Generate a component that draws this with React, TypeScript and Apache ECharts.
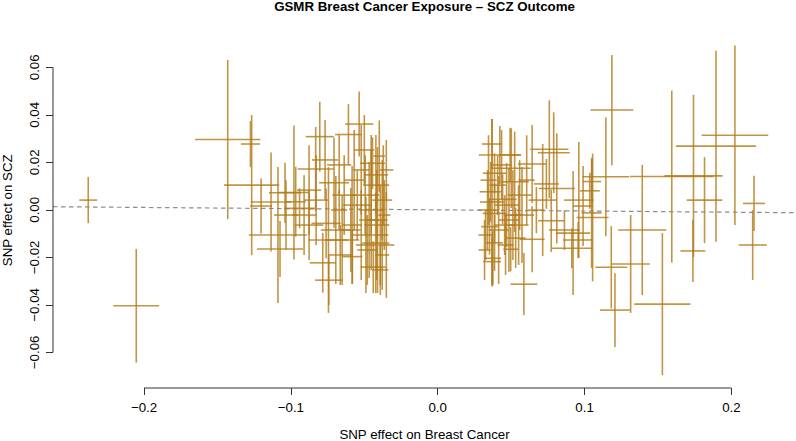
import React, { useEffect, useRef } from "react";
import * as echarts from "echarts";

// ---- chart text ----
const chartTitle = "GSMR Breast Cancer Exposure \u2013 SCZ Outcome";
const xTitle = "SNP effect on Breast Cancer";
const yTitle = "SNP effect on SCZ";

// ---- axes ----
const xTicks = [-0.2, -0.1, 0, 0.1, 0.2];
const yTicks = [-0.06, -0.04, -0.02, 0, 0.02, 0.04, 0.06];
const xRange = [-0.262, 0.244];
const yRange = [-0.075, 0.0746];

// GSMR estimate (slope of dashed line through origin)
const bxy = -0.005;

// ---- SNP effects: exposure (bzx), outcome (bzy) and their standard errors ----
const bzx = [
  -0.238, -0.2053, -0.143, -0.1267, -0.1275, -0.1135, -0.1088, -0.1203, -0.1074,
  -0.0803, -0.0767, -0.0979, -0.0831, -0.0706, -0.104, -0.0967, -0.0744, -0.0694, -0.0783,
  -0.0742, -0.0608, -0.0535, -0.0421, -0.0444, -0.0398, -0.076, -0.0651, -0.0581, -0.0422,
  -0.0439, -0.0415, -0.0941, -0.0583, -0.0592, -0.0467, -0.041, -0.0494, -0.0378, -0.0453,
  -0.0548, -0.0637, -0.0876, -0.091, -0.0828, -0.0521, -0.0391, -0.0364, -0.048, -0.0378,
  -0.1033, -0.0671, -0.05, -0.0671, -0.035, -0.0489,
  -0.0371, -0.035, -0.0521, -0.0569, -0.0391, -0.0453, -0.0664, -0.0876,
  0.1186, 0.1145, 0.1393, 0.1594, 0.1742, 0.1895, 0.2024, 0.1817, 0.2154, 0.2145,
  0.1738, 0.153, 0.1314, 0.1182, 0.1207, 0.0587,
  0.0961, 0.0922, 0.099, 0.1048, 0.1055, 0.1036, 0.105, 0.0956, 0.0913, 0.0863,
  0.076, 0.079, 0.0811, 0.0715, 0.0643, 0.074, 0.0773, 0.0643, 0.0672,
  0.0369, 0.037, 0.0423, 0.0493, 0.0501, 0.0524, 0.0387, 0.036, 0.0387, 0.0353,
  0.0387, 0.0376, 0.037, 0.0497, 0.0415, 0.0485, 0.0574, 0.0512, 0.0442, 0.0339,
  0.0558, 0.0456, 0.0326, 0.0531, 0.0408, 0.0469,
  0.0435, 0.0346, 0.0462, 0.0551, 0.0606, 0.0319,
];
const bzy = [
  0.0041, -0.0404, 0.0296, 0.0104, 0.0277, 0.0033, -0.0106, 0.0016, -0.0165,
  0.0308, 0.021, 0.0073, 0.0172, 0.0114, 0.0072, 0.0034, -0.0127, -0.0085, -0.0223,
  -0.0296, 0.0317, 0.0361, 0.0147, 0.0196, 0.0226, -0.0057, -0.0127, -0.0197, -0.014,
  -0.0241, -0.0064, 0.0006, -0.0064, -0.0085, -0.0043, -0.0043, 0.0062, 0.0041, 0.0104,
  0.002, 0.0062, 0.0083, -0.0022, 0.0041, -0.0106, -0.0106, -0.0022, -0.0169, -0.019,
  -0.0022, -0.0001, 0.0252, 0.0189, -0.0148, -0.0148,
  0.0104, 0.0168, 0.0168, 0.0125, -0.0253, -0.0001, -0.019, -0.0064,
  0.042, 0.0139, -0.0085, 0.014, 0.0143, 0.0268, 0.0314, 0.0041, 0.0027, -0.0148,
  -0.0173, -0.0397, -0.0228, -0.0242, -0.0422, -0.0313,
  0.0041, -0.0098, 0.0016, -0.0013, -0.0032, 0.008, 0.0119, -0.0127, -0.0162, -0.0085,
  0.0255, 0.024, 0.009, 0.0041, 0.0193, 0.0109, -0.0046, -0.0124, -0.0001,
  0.0277, 0.0033, 0.0231, 0.0231, 0.0175, 0.0118, 0.0154, 0.0076, -0.0015, -0.0071,
  -0.0139, -0.0204, -0.0218, -0.0166, -0.0085, -0.0043, -0.0022, -0.0022, 0.0044, -0.0001,
  0.0062, -0.0064, -0.0106, -0.0119, 0.0104, 0.002,
  0.0189, 0.0125, -0.0148, -0.0064, 0.0125, -0.0169,
];
const seZx = [
  0.0061, 0.0156, 0.0222, 0.0188, 0.0065, 0.0137, 0.0198, 0.0075, 0.0157,
  0.0096, 0.0089, 0.0102, 0.0123, 0.0102, 0.0109, 0.0068, 0.0137, 0.0102, 0.0089,
  0.0094, 0.0091, 0.0096, 0.0082, 0.0085, 0.0041, 0.01, 0.0116, 0.0068, 0.0092,
  0.0085, 0.0085, 0.0106, 0.0068, 0.0068, 0.0068, 0.0068, 0.0096, 0.0068, 0.0055,
  0.0096, 0.0082, 0.0082, 0.0082, 0.0082, 0.0068, 0.0055, 0.0041, 0.0068, 0.0048,
  0.0082, 0.0055, 0.0068, 0.0082, 0.0055, 0.0068,
  0.0041, 0.0048, 0.0055, 0.0068, 0.0055, 0.0082, 0.0082, 0.0096,
  0.0146, 0.0159, 0.0164, 0.0285, 0.0198, 0.0273, 0.0227, 0.0121, 0.0075, 0.0096,
  0.0085, 0.0191, 0.013, 0.0109, 0.0102, 0.0091,
  0.0102, 0.0116, 0.0068, 0.0068, 0.0109, 0.0068, 0.0063, 0.0102, 0.0137, 0.0105,
  0.013, 0.0109, 0.0123, 0.0096, 0.0096, 0.0085, 0.0089, 0.0085, 0.0055,
  0.0068, 0.0082, 0.0143, 0.0075, 0.0133, 0.0096, 0.008, 0.0075, 0.008, 0.0057,
  0.0057, 0.0057, 0.0061, 0.0051, 0.0068, 0.0068, 0.0082, 0.0061, 0.0096, 0.0061,
  0.0082, 0.0068, 0.0048, 0.0068, 0.0055, 0.0082,
  0.0068, 0.0055, 0.0055, 0.0068, 0.0055, 0.0041,
];
const seZy = [
  0.0097, 0.0239, 0.0335, 0.0295, 0.0097, 0.0208, 0.0286, 0.0116, 0.0118,
  0.0147, 0.0168, 0.0282, 0.0177, 0.0189, 0.0126, 0.0147, 0.0307, 0.0227, 0.0126,
  0.0105, 0.0128, 0.0137, 0.0168, 0.0109, 0.015, 0.0147, 0.0189, 0.0114, 0.0211,
  0.0109, 0.0232, 0.0084, 0.0248, 0.0177, 0.0244, 0.0307, 0.0168, 0.0168, 0.0211,
  0.0147, 0.0168, 0.0189, 0.0168, 0.0189, 0.0189, 0.0211, 0.0147, 0.0147, 0.0147,
  0.0147, 0.0084, 0.0147, 0.0126, 0.0223, 0.0202,
  0.0168, 0.0126, 0.0189, 0.0211, 0.0105, 0.0253, 0.0126, 0.0147,
  0.0232, 0.025, 0.0274, 0.0362, 0.0341, 0.0402, 0.0378, 0.0181, 0.0116, 0.0147,
  0.0131, 0.0299, 0.0206, 0.0173, 0.0155, 0.0131,
  0.0244, 0.0261, 0.0168, 0.0232, 0.0269, 0.0076, 0.0093, 0.0076, 0.0084, 0.0084,
  0.0206, 0.017, 0.0232, 0.0236, 0.0164, 0.0105, 0.0131, 0.0139, 0.0097,
  0.0105, 0.0349, 0.0122, 0.0114, 0.0168, 0.0211, 0.0084, 0.0126, 0.0126, 0.0118,
  0.0118, 0.0114, 0.0105, 0.0093, 0.0227, 0.0219, 0.0202, 0.0189, 0.0105, 0.0168,
  0.0147, 0.0126, 0.0105, 0.0126, 0.0126, 0.0177,
  0.0147, 0.0189, 0.0126, 0.0168, 0.0189, 0.0126,
];

const FONT = "'Liberation Sans', Arial, Helvetica, sans-serif";
const CROSS = "rgba(178,122,24,0.8)";
const AXIS = "#333";

const minus = (s: string) => s.replace("-", "\u2212");

export default function App() {
  const ref = useRef<HTMLDivElement>(null);

  useEffect(() => {
    if (!ref.current) return;
    const chart = echarts.init(ref.current, null, { renderer: "svg" });

    const points = bzx.map((x, i) => [x, bzy[i], seZx[i], seZy[i]]);
    const fitLine = [
      [xRange[0], bxy * xRange[0]],
      [xRange[1], bxy * xRange[1]],
    ];
    const xSpine = [
      [xTicks[0], yRange[0]],
      [xTicks[xTicks.length - 1], yRange[0]],
    ];
    const ySpine = [
      [xRange[0], yTicks[0]],
      [xRange[0], yTicks[yTicks.length - 1]],
    ];

    const option: any = {
      animation: false,
      backgroundColor: "#fff",
      textStyle: { fontFamily: FONT },
      grid: {
        left: 53,
        right: 0,
        top: 32.6,
        bottom: 53,
        containLabel: false,
        outerBoundsMode: "none",
      },
      graphic: [
        {
          type: "text",
          x: 424.5,
          y: 0,
          style: {
            text: chartTitle,
            textAlign: "center",
            textVerticalAlign: "top",
            fontSize: 13.3,
            fontWeight: "bold",
            fontFamily: FONT,
            fill: "#000",
          },
        },
      ],
      xAxis: {
        type: "value",
        min: xRange[0],
        max: xRange[1],
        name: xTitle,
        nameLocation: "middle",
        nameGap: 39.5,
        nameTextStyle: { fontSize: 13.3, color: "#000", fontFamily: FONT },
        axisLine: { show: false, onZero: false },
        splitLine: { show: false },
        axisTick: {
          show: true,
          customValues: xTicks,
          length: 7,
          lineStyle: { color: AXIS, width: 1 },
        },
        axisLabel: {
          customValues: xTicks,
          margin: 13,
          fontSize: 13.3,
          color: "#000",
          fontFamily: FONT,
          formatter: (v: number) => minus(v.toFixed(1)),
        },
      },
      yAxis: {
        type: "value",
        min: yRange[0],
        max: yRange[1],
        name: yTitle,
        nameLocation: "middle",
        nameRotate: 90,
        nameGap: 39,
        nameTextStyle: { fontSize: 13.3, color: "#000", fontFamily: FONT },
        axisLine: { show: false, onZero: false },
        splitLine: { show: false },
        axisTick: {
          show: true,
          customValues: yTicks,
          length: 7,
          lineStyle: { color: AXIS, width: 1 },
        },
        axisLabel: {
          customValues: yTicks,
          rotate: 90,
          margin: 12,
          fontSize: 13.3,
          color: "#000",
          fontFamily: FONT,
          formatter: (v: number) => minus(v.toFixed(2)),
        },
      },
      series: [
        {
          type: "line",
          data: fitLine,
          symbol: "none",
          silent: true,
          z: 1,
          lineStyle: { color: "#8c8c8c", width: 1.2, type: [4.5, 3.5] },
        },
        {
          type: "custom",
          data: points,
          z: 2,
          silent: true,
          encode: { x: 0, y: 1 },
          renderItem: (_p: any, api: any) => {
            const x = api.value(0);
            const y = api.value(1);
            const sx = api.value(2);
            const sy = api.value(3);
            const l = api.coord([x - sx, y]);
            const r = api.coord([x + sx, y]);
            const t = api.coord([x, y + sy]);
            const b = api.coord([x, y - sy]);
            return {
              type: "group",
              children: [
                {
                  type: "line",
                  shape: { x1: l[0], y1: l[1], x2: r[0], y2: r[1] },
                  style: { stroke: CROSS, lineWidth: 1.6 },
                },
                {
                  type: "line",
                  shape: { x1: t[0], y1: t[1], x2: b[0], y2: b[1] },
                  style: { stroke: CROSS, lineWidth: 1.6 },
                },
              ],
            };
          },
        },
        {
          type: "line",
          data: xSpine,
          symbol: "none",
          silent: true,
          clip: false,
          z: 3,
          lineStyle: { color: AXIS, width: 1 },
        },
        {
          type: "line",
          data: ySpine,
          symbol: "none",
          silent: true,
          clip: false,
          z: 3,
          lineStyle: { color: AXIS, width: 1 },
        },
      ],
    };

    chart.setOption(option);
    return () => chart.dispose();
  }, []);

  return (
    <div
      ref={ref}
      style={{ position: "fixed", left: 0, top: 0, width: 796, height: 441 }}
    />
  );
}
